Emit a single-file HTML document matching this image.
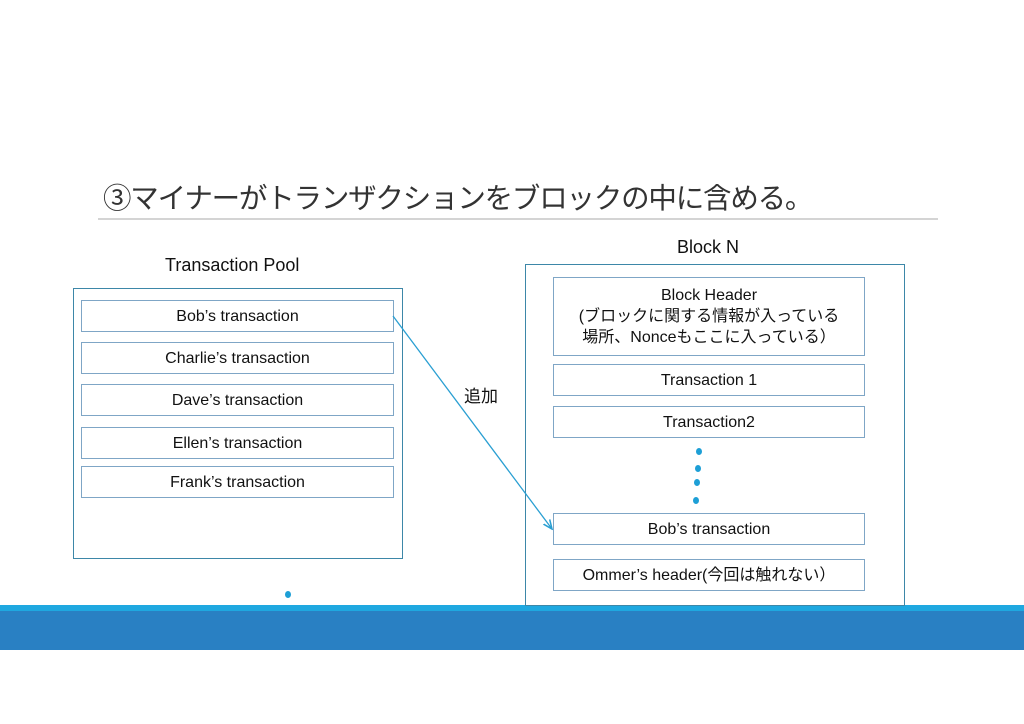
<!DOCTYPE html><html><head><meta charset="utf-8"><style>
body{margin:0;width:1024px;height:724px;background:#fff;position:relative;overflow:hidden;font-family:"Liberation Sans","Noto Sans CJK JP",sans-serif;color:#111}
.a{position:absolute}
.ob{position:absolute;border:1.5px solid #3d87a8;box-sizing:border-box}
.ib{position:absolute;border:1.5px solid #7fa6c6;box-sizing:border-box;display:flex;align-items:center;justify-content:center;font-size:16px;text-align:center;line-height:21px;background:#fff}
.dot{position:absolute;width:6px;height:7px;border-radius:50%;background:#1d9fd6}
</style></head><body>
<div class="a" style="left:103px;top:176px;font-size:28.5px;color:#333;white-space:nowrap;letter-spacing:-1.2px">③マイナーがトランザクションをブロックの中に含める。</div>
<div class="a" style="left:98px;top:218px;width:840px;height:2px;background:#d4d4d4"></div>
<div class="a" style="left:165px;top:255px;font-size:18px">Transaction Pool</div>
<div class="a" style="left:677px;top:237px;font-size:18px">Block N</div>
<div class="ob" style="left:73px;top:288px;width:330px;height:271px"></div>
<div class="ib" style="left:81px;top:300px;width:313px;height:32px">Bob’s transaction</div>
<div class="ib" style="left:81px;top:342px;width:313px;height:32px">Charlie’s transaction</div>
<div class="ib" style="left:81px;top:384px;width:313px;height:32px">Dave’s transaction</div>
<div class="ib" style="left:81px;top:427px;width:313px;height:32px">Ellen’s transaction</div>
<div class="ib" style="left:81px;top:466px;width:313px;height:32px">Frank’s transaction</div>
<div class="a" style="left:0;top:605px;width:1024px;height:6px;background:#1fa8e0"></div>
<div class="a" style="left:0;top:611px;width:1024px;height:39px;background:#2980c3"></div>
<div class="ob" style="left:525px;top:264px;width:380px;height:342px;background:#fff"></div>
<div class="ib" style="left:553px;top:277px;width:312px;height:79px;line-height:21px">Block Header<br>(ブロックに関する情報が入っている<br>場所、Nonceもここに入っている）</div>
<div class="ib" style="left:553px;top:364px;width:312px;height:32px">Transaction 1</div>
<div class="ib" style="left:553px;top:406px;width:312px;height:32px">Transaction2</div>
<div class="ib" style="left:553px;top:513px;width:312px;height:32px">Bob’s transaction</div>
<div class="ib" style="left:553px;top:559px;width:312px;height:32px">Ommer’s header(今回は触れない）</div>
<div class="dot" style="left:696px;top:448px"></div>
<div class="dot" style="left:695px;top:465px"></div>
<div class="dot" style="left:694px;top:479px"></div>
<div class="dot" style="left:693px;top:497px"></div>
<div class="dot" style="left:285px;top:591px"></div>
<div class="a" style="left:464px;top:382px;font-size:17px">追加</div>
<svg class="a" style="left:0;top:0" width="1024" height="724"><defs><marker id="m" markerWidth="8" markerHeight="8" refX="7" refY="4" orient="auto"><path d="M0,1 L7,4 L0,7" fill="none" stroke="#2a9fd2" stroke-width="1.2"/></marker></defs>
<line x1="393" y1="316" x2="552" y2="529" stroke="#2a9fd2" stroke-width="1.3" marker-end="url(#m)"/></svg>
</body></html>
